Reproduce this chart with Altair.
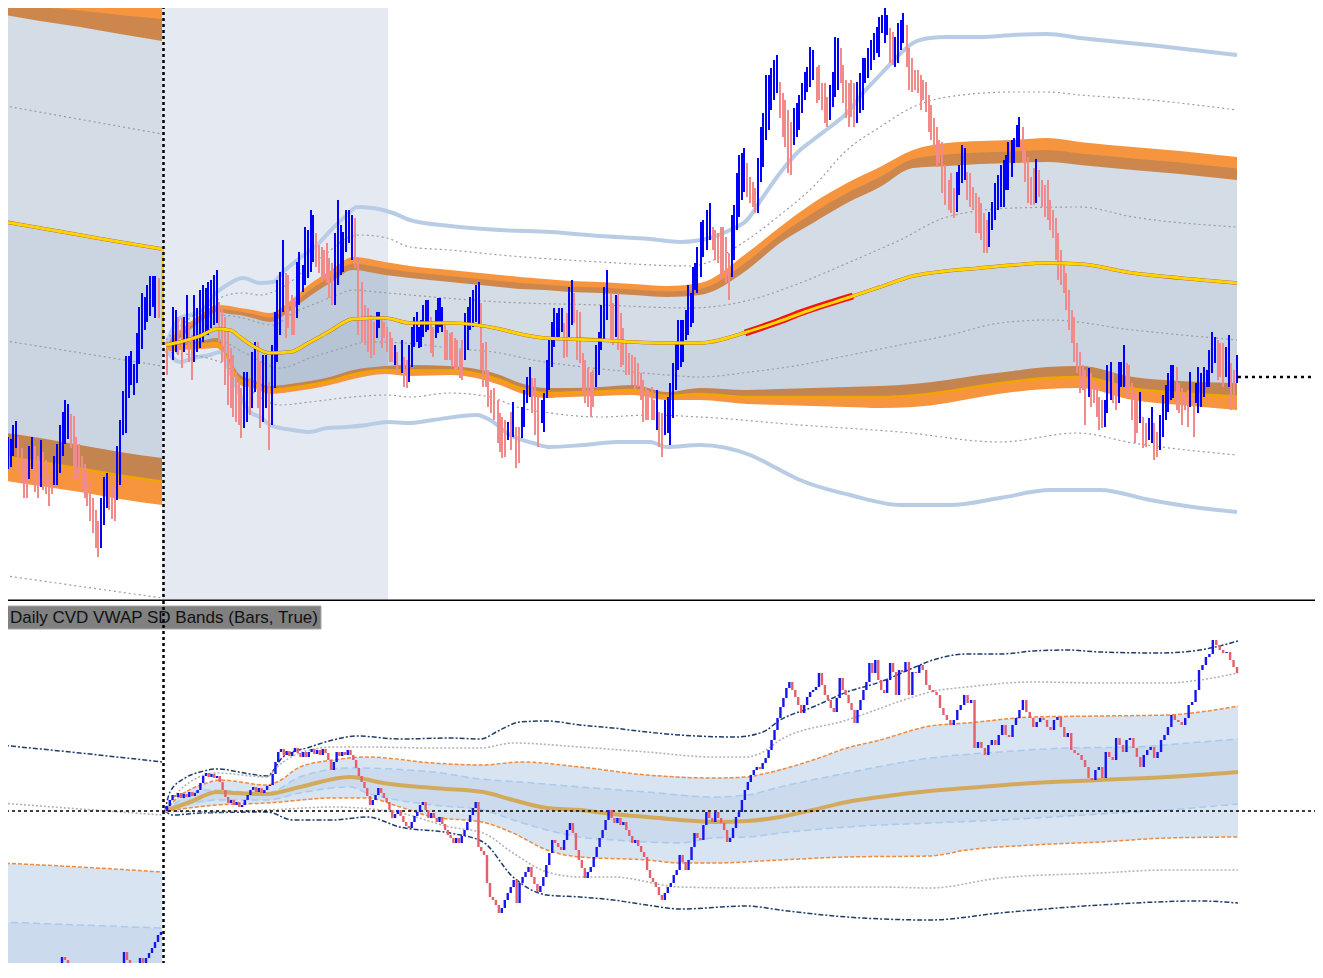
import altair as alt
import pandas as pd
import numpy as np

# ---------------- frame (chart units follow the reference picture) ----------------
X0, X1 = 8, 1315
TOP_Y0, TOP_Y1 = 8, 601
BOT_Y0, BOT_Y1 = 601, 963
W = X1 - X0
H_TOP = TOP_Y1 - TOP_Y0
H_BOT = BOT_Y1 - BOT_Y0

# ---------------- price panel: bars (time, upper end, lower end, direction) ----------------
prev_bars = [
 (3,452,487,'d'),(6,454,479,'u'),(8,437,469,'u'),(11,439,467,'u'),(13,425,456,'u'),(16,421,448,'u'),
 (18,437,471,'d'),(22,448,483,'d'),(24,460,498,'d'),(27,460,498,'d'),(29,446,479,'u'),(32,437,469,'u'),
 (35,446,492,'d'),(38,456,498,'d'),(41,440,487,'u'),(43,452,490,'d'),(46,460,494,'d'),(49,475,506,'d'),
 (52,464,494,'d'),(54,456,485,'u'),(57,444,485,'u'),(60,425,473,'u'),(63,412,456,'u'),(65,400,444,'u'),
 (68,404,439,'u'),(71,414,448,'d'),(74,416,479,'d'),(76,437,479,'d'),(79,444,477,'d'),(82,456,490,'d'),
 (85,464,498,'d'),(87,471,506,'d'),(90,481,521,'d'),(93,498,533,'d'),(96,510,548,'d'),(98,521,557,'d'),
 (101,498,548,'u'),(104,477,525,'u'),(107,473,508,'u'),(109,479,510,'d'),(112,483,519,'d'),(115,487,521,'d'),
 (117,446,500,'u'),(120,420,485,'u'),(123,391,435,'u'),(126,356,433,'u'),(129,356,398,'u'),(131,351,385,'u'),
 (134,364,395,'u'),(137,333,383,'u'),(139,307,364,'u'),(142,293,349,'u'),(145,297,330,'u'),(147,285,322,'u'),
 (150,276,316,'u'),(153,276,307,'u'),(155,276,318,'u'),(159,278,318,'d'),
]

cur_bars = [
 (167,342,375,'d'),(173,307,360,'u'),(176,310,352,'u'),(178,317,355,'d'),(182,318,368,'d'),(184,317,352,'u'),
 (187,295,342,'u'),(189,322,362,'d'),(192,335,380,'d'),(194,295,362,'u'),(197,308,352,'u'),(200,290,348,'u'),
 (203,285,342,'u'),(206,288,335,'u'),(208,282,335,'u'),(211,280,328,'u'),(214,275,325,'u'),(217,270,323,'u'),
 (219,302,342,'d'),(222,308,362,'d'),(225,317,385,'d'),(228,328,405,'d'),(231,348,408,'d'),(233,355,417,'d'),
 (236,372,422,'d'),(239,382,425,'d'),(241,388,438,'d'),(244,372,428,'u'),(247,372,422,'u'),(250,378,415,'d'),
 (252,352,408,'u'),(255,342,392,'u'),(258,342,408,'d'),(260,362,428,'d'),(263,355,422,'u'),(266,355,408,'u'),
 (269,382,450,'d'),(272,345,425,'u'),(275,312,388,'u'),(277,280,362,'u'),(280,272,335,'u'),(283,240,312,'u'),
 (286,273,338,'d'),(288,275,328,'d'),(292,295,335,'d'),(294,298,335,'d'),(297,262,318,'u'),(299,252,305,'u'),
 (303,265,292,'u'),(305,227,285,'u'),(308,230,278,'u'),(311,210,272,'u'),(313,215,262,'u'),(316,233,267,'d'),
 (319,245,273,'d'),(322,247,282,'d'),(324,250,278,'d'),(327,243,283,'d'),(329,258,298,'d'),(332,263,305,'d'),
 (335,233,305,'u'),(338,200,285,'u'),(341,225,275,'u'),(343,232,272,'u'),(346,210,252,'u'),(349,210,243,'u'),
 (352,215,260,'u'),(355,218,268,'d'),(358,257,335,'d'),(362,282,342,'d'),(365,305,345,'d'),(368,308,352,'d'),
 (371,315,358,'d'),(374,322,355,'d'),(377,312,338,'u'),(379,312,328,'u'),(382,318,348,'d'),(384,322,338,'d'),
 (387,327,352,'d'),(390,332,362,'d'),(392,338,362,'d'),(395,345,365,'u'),(397,352,375,'d'),
 (402,340,373,'u'),(404,357,387,'d'),(407,360,388,'d'),(409,345,382,'u'),(412,327,367,'u'),(414,317,347,'u'),
 (417,312,342,'u'),(419,327,348,'u'),(421,320,347,'u'),(423,305,337,'u'),(426,300,332,'u'),(428,300,330,'u'),
 (431,317,353,'d'),(433,327,357,'d'),(436,310,338,'u'),(438,298,333,'u'),(440,298,327,'u'),(442,307,332,'u'),
 (445,325,360,'d'),(447,330,360,'d'),(450,333,360,'d'),(452,332,367,'d'),(455,338,370,'d'),(457,340,370,'d'),
 (460,350,378,'d'),(462,340,380,'d'),(465,313,360,'u'),(468,307,350,'u'),(470,297,330,'u'),(473,290,327,'u'),
 (476,285,322,'u'),(479,282,325,'u'),(481,303,370,'d'),(483,343,387,'d'),(486,342,387,'d'),(488,370,407,'d'),
 (491,390,413,'d'),(494,388,420,'d'),(498,400,443,'d'),(500,413,452,'d'),(502,417,458,'d'),(505,420,457,'d'),
 (508,422,440,'u'),(511,412,450,'d'),(513,402,437,'u'),(516,427,468,'d'),(519,427,463,'d'),(522,407,438,'u'),
 (524,390,427,'u'),(527,377,403,'u'),(530,367,397,'u'),(532,378,413,'d'),(535,378,435,'d'),(538,397,447,'d'),
 (542,400,423,'u'),(544,393,432,'u'),(547,360,398,'u'),(549,340,390,'u'),(552,322,367,'u'),(554,308,347,'u'),
 (557,313,340,'u'),(559,308,337,'u'),(562,308,332,'u'),(564,323,358,'d'),(567,313,357,'d'),(569,287,337,'u'),
 (572,280,325,'u'),(574,293,323,'d'),(577,310,360,'d'),(580,312,363,'d'),(583,353,393,'d'),(585,360,403,'d'),
 (588,368,407,'d'),(591,372,417,'d'),(593,370,407,'d'),(596,345,387,'u'),(599,332,375,'u'),(601,305,350,'u'),
 (604,287,340,'u'),(607,270,320,'u'),(611,293,340,'d'),(613,303,345,'d'),(616,295,337,'u'),(618,293,350,'d'),
 (621,313,367,'d'),(623,328,365,'d'),(626,342,375,'d'),(629,353,375,'d'),(632,355,385,'d'),(635,357,390,'d'),
 (638,363,387,'d'),(641,373,400,'d'),(643,380,422,'d'),(646,387,420,'d'),(648,390,420,'d'),(652,387,420,'d'),
 (654,400,420,'d'),(657,390,430,'u'),(659,412,447,'d'),(662,413,457,'d'),(665,400,435,'u'),(668,397,433,'u'),
 (670,383,445,'u'),(673,363,418,'u'),(676,343,390,'u'),(678,320,370,'u'),(681,320,367,'u'),(683,320,362,'u'),
 (686,310,340,'u'),(688,285,335,'u'),(691,293,327,'u'),(693,267,323,'u'),(695,263,290,'u'),(697,247,293,'u'),
 (701,222,277,'u'),(703,220,257,'u'),(707,210,250,'u'),(710,203,240,'u'),(713,227,250,'d'),(715,230,260,'d'),
 (718,233,263,'d'),(721,227,280,'d'),(723,227,273,'d'),(726,237,283,'d'),(729,253,300,'d'),(732,215,277,'u'),
 (734,205,260,'u'),(737,173,230,'u'),(739,155,217,'u'),(742,153,200,'u'),(744,148,192,'u'),(747,163,197,'d'),
 (750,177,203,'d'),(753,182,207,'d'),(755,188,213,'d'),(758,158,213,'u'),(761,127,182,'u'),(763,113,167,'u'),
 (766,75,140,'u'),(769,75,130,'u'),(771,68,110,'u'),(774,60,100,'u'),(777,55,93,'u'),(780,82,118,'d'),
 (783,93,137,'d'),(785,100,147,'d'),(788,110,173,'d'),(791,122,175,'d'),(794,108,145,'u'),(797,103,137,'u'),
 (799,95,130,'u'),(802,83,113,'u'),(805,72,100,'u'),(807,67,92,'u'),(810,47,87,'u'),(813,50,80,'u'),
 (817,67,103,'d'),(819,65,100,'d'),(822,83,110,'d'),(825,83,123,'d'),(827,97,127,'d'),(830,85,120,'u'),
 (833,72,107,'u'),(835,37,97,'u'),(838,38,90,'u'),(841,48,83,'d'),(843,65,103,'d'),(846,80,118,'d'),
 (849,83,127,'d'),(851,80,117,'d'),(854,83,127,'d'),(857,82,123,'u'),(860,73,113,'u'),(863,58,110,'u'),
 (865,58,83,'u'),(868,48,78,'u'),(871,40,70,'u'),(874,33,60,'u'),(877,27,53,'u'),(879,17,57,'u'),
 (882,15,33,'u'),(885,5,43,'u'),(887,15,35,'u'),(890,28,63,'d'),(893,32,65,'d'),(895,37,67,'u'),
 (898,23,63,'u'),(901,20,50,'u'),(903,13,43,'u'),(907,25,67,'d'),(909,48,90,'d'),(912,58,92,'d'),
 (915,70,90,'d'),(918,70,93,'d'),(921,75,110,'d'),(923,80,100,'d'),(926,82,112,'d'),(929,95,132,'d'),
 (931,105,140,'d'),(934,118,147,'d'),(937,127,167,'d'),(939,140,163,'d'),(942,142,193,'d'),(945,165,205,'d'),
 (949,180,210,'d'),(951,173,213,'d'),(954,188,218,'d'),(957,172,212,'u'),(959,165,195,'u'),(962,145,183,'u'),
 (965,148,180,'u'),(967,172,200,'d'),(970,173,207,'d'),(973,187,210,'d'),(976,193,233,'d'),(979,197,233,'d'),
 (981,203,240,'d'),(984,213,253,'d'),(987,220,253,'d'),(989,212,247,'u'),(992,202,230,'u'),(995,183,220,'u'),
 (998,175,210,'u'),(1001,165,207,'u'),(1004,160,207,'u'),(1006,155,190,'u'),(1008,142,190,'u'),(1012,140,177,'u'),
 (1014,138,163,'u'),(1017,125,147,'u'),(1019,117,147,'u'),(1023,127,163,'d'),(1025,150,182,'d'),(1028,157,203,'d'),
 (1031,177,205,'d'),(1034,168,205,'d'),(1036,159,203,'u'),(1039,170,197,'d'),(1042,180,207,'d'),(1045,185,217,'d'),
 (1048,180,220,'d'),(1050,200,230,'d'),(1053,210,238,'d'),(1056,218,260,'d'),(1058,233,280,'d'),(1061,250,285,'d'),
 (1064,263,293,'d'),(1066,273,310,'d'),(1069,290,330,'d'),(1072,310,343,'d'),(1074,317,362,'d'),(1077,343,373,'d'),
 (1080,352,393,'d'),(1083,365,390,'d'),(1085,370,425,'d'),(1089,368,397,'u'),(1091,373,407,'d'),(1094,380,403,'d'),
 (1097,387,417,'d'),(1099,397,430,'d'),(1102,400,428,'d'),(1105,400,427,'u'),(1107,365,413,'u'),(1111,362,400,'u'),
 (1113,373,403,'d'),(1116,383,410,'d'),(1119,362,403,'u'),(1121,362,387,'u'),(1124,345,387,'u'),(1127,363,397,'d'),
 (1129,365,397,'d'),(1132,383,420,'d'),(1135,393,443,'d'),(1137,393,433,'d'),(1140,392,423,'u'),(1143,417,448,'d'),
 (1146,423,447,'d'),(1149,418,440,'u'),(1152,407,443,'u'),(1154,423,460,'d'),(1157,432,457,'d'),(1160,415,450,'u'),
 (1163,395,437,'u'),(1166,385,420,'u'),(1168,373,412,'u'),(1171,365,400,'u'),(1173,365,398,'u'),(1177,367,410,'d'),
 (1179,383,413,'d'),(1182,388,425,'d'),(1185,393,410,'d'),(1188,390,427,'d'),(1190,372,407,'u'),(1194,397,437,'d'),
 (1196,383,403,'u'),(1198,367,413,'u'),(1201,373,407,'u'),(1204,367,397,'u'),(1207,370,387,'u'),(1209,350,387,'u'),
 (1212,332,373,'u'),(1215,337,363,'u'),(1218,340,380,'d'),(1220,343,377,'d'),(1223,343,387,'d'),(1226,347,377,'u'),
 (1229,335,387,'u'),(1231,363,410,'d'),(1234,370,407,'d'),(1237,355,383,'u'),
]

# ---------------- price panel: session bands ----------------
# previous session
prev_x = [0, 40, 80, 120, 162]
prev_up_outer = [-8, -7, -6, -4, -3]
prev_up_inner = [14, 21, 27, 34, 41]
prev_lo_inner = [432, 438, 445, 452, 458]
prev_lo_outer = [480, 486, 492, 499, 505]
prev_vwap = [221, 228, 235, 242, 249]
prev_dots = [[(0, 105), (162, 134)], [(0, 340), (162, 366)], [(0, 575), (162, 598)]]

# current session
cur_x = [166, 180, 200, 217, 230, 240, 253, 270, 290, 310, 330, 353, 385, 410, 450, 500, 520, 545, 570,
         600, 633, 667, 700, 747, 780, 813, 847, 880, 913, 947, 980, 1013, 1047, 1080, 1133, 1180, 1237]
cur_up_outer = [340, 330, 315, 305, 306, 308, 310, 313, 301, 284, 271, 257, 262, 266, 270, 275, 277, 279, 281,
                282, 284, 286, 283, 253, 227, 203, 183, 167, 150, 143, 141, 140, 138, 142, 147, 151, 157]
cur_up_inner = [348, 338, 322, 312, 314, 315, 318, 322, 311, 296, 283, 270, 275, 278, 282, 287, 289, 290, 292,
                293, 295, 297, 295, 270, 243, 223, 203, 187, 168, 166, 164, 163, 162, 165, 170, 174, 180]
cur_lo_inner = [345, 343, 341, 338, 360, 375, 380, 386, 384, 381, 377, 370, 366, 365, 366, 375, 383, 388, 388,
                387, 385, 392, 388, 390, 389, 388, 387, 386, 384, 380, 375, 371, 367, 366, 377, 381, 383]
cur_lo_outer = [352, 350, 349, 348, 370, 385, 388, 394, 392, 389, 385, 379, 374, 376, 375, 385, 393, 398, 397,
                396, 395, 400, 400, 404, 405, 406, 407, 408, 407, 403, 397, 392, 389, 388, 400, 405, 410]
cur_vwap = [345, 342, 336, 329, 330, 337, 346, 353, 352, 342, 331, 319, 318, 323, 323, 329, 334, 338, 339,
            340, 342, 343, 343, 332, 321, 309, 298, 287, 276, 271, 268, 265, 263, 264, 273, 278, 283]
vwap_flag = [(745, 333), (777, 322), (800, 313), (830, 303), (853, 296)]

sd3_up = [(166, 345), (180, 318), (200, 312), (217, 292), (227, 285), (243, 278), (260, 283), (273, 282),
          (283, 272), (300, 258), (317, 245), (333, 228), (347, 215), (357, 207), (373, 208), (393, 213),
          (410, 220), (450, 226), (500, 230), (550, 232), (600, 236), (650, 239), (680, 242), (713, 237),
          (730, 230), (747, 220), (763, 197), (780, 173), (797, 153), (813, 140), (830, 127), (847, 113),
          (863, 93), (880, 75), (897, 57), (913, 43), (930, 38), (947, 37), (980, 37), (1013, 35),
          (1047, 34), (1080, 38), (1150, 45), (1237, 55)]
sd3_lo = [(166, 350), (180, 362), (193, 358), (210, 355), (220, 352), (230, 372), (240, 395), (250, 412),
          (260, 417), (270, 425), (280, 428), (293, 430), (310, 432), (327, 428), (347, 427), (367, 425),
          (387, 422), (410, 423), (433, 420), (477, 415), (490, 420), (510, 435), (533, 443), (550, 447),
          (583, 445), (617, 442), (650, 442), (667, 447), (700, 445), (750, 455), (780, 470), (800, 480),
          (850, 495), (900, 505), (950, 505), (1000, 498), (1050, 490), (1100, 490), (1150, 500),
          (1200, 508), (1237, 512)]
dot_up_outer = [(166, 340), (190, 318), (210, 305), (227, 295), (243, 293), (260, 295), (273, 292), (293, 280),
                (310, 265), (327, 253), (347, 238), (360, 235), (387, 238), (410, 247), (450, 250), (500, 255),
                (600, 262), (690, 266), (747, 240), (780, 215), (813, 187), (847, 150), (880, 127), (913, 107),
                (947, 97), (1013, 92), (1047, 92), (1080, 95), (1150, 100), (1237, 110)]
dot_up_inner = [(166, 343), (180, 335), (217, 315), (243, 318), (260, 323), (273, 325), (293, 313), (317, 303),
                (337, 295), (353, 290), (377, 292), (410, 295), (500, 302), (600, 305), (690, 308), (750, 300),
                (800, 283), (850, 262), (900, 240), (947, 217), (1013, 208), (1080, 207), (1133, 217), (1237, 227)]
dot_lo_inner = [(166, 348), (217, 340), (243, 352), (280, 368), (310, 358), (343, 348), (367, 342), (405, 343),
                (450, 348), (500, 353), (533, 360), (583, 367), (633, 372), (667, 375), (700, 377), (750, 372),
                (800, 365), (850, 355), (900, 345), (950, 335), (1000, 323), (1050, 320), (1133, 330), (1237, 340)]
dot_lo_outer = [(166, 352), (220, 362), (250, 390), (280, 405), (310, 402), (343, 398), (387, 395), (410, 397),
                (450, 393), (490, 397), (517, 407), (550, 413), (600, 417), (650, 415), (700, 417), (800, 425),
                (900, 432), (1000, 442), (1077, 433), (1133, 443), (1237, 455)]

# ---------------- CVD panel ----------------
cvd_start = 811
cvd_seg1 = (167, 484, [
 806,800,795,797,793,798,794,797,792,796, 793,790,783,776,773,777,774,778,776,782,
 790,797,803,800,805,802,807,805,800,795, 790,787,792,788,793,790,786,785,774,762,
 752,749,755,751,756,752,748,753,757,752, 757,752,749,754,750,755,749,753,760,770,
 762,752,756,752,755,750,755,760,768,776, 782,788,796,805,800,795,788,793,798,802,
 810,818,814,810,816,822,826,828,822,816, 812,805,802,810,818,813,818,822,817,824,
 830,835,838,843,838,843,836,830,822,815, 808,802,847,851,855])
cvd_seg2 = (487, 899, [
 883,897,900,905,913,908,900,893,887,880, 903,883,877,872,867,877,884,892,886,877,
 865,853,840,843,847,850,840,830,823,833, 850,860,868,878,872,867,857,847,838,830,
 820,810,818,823,818,825,822,830,836,843, 840,846,852,857,870,878,882,887,895,900,
 893,887,883,875,870,855,862,870,860,847, 833,838,840,825,812,818,822,812,818,823,
 830,842,838,828,817,812,800,790,782,775, 770,767,769,763,758,750,740,730,718,707,
 698,688,682,690,697,705,713,705,697,692, 690,687,673,685,695,700,708,712,698,678,
 690,695,703,710,723,710,700,690,682,663, 673,660,680,690,693,680,663,672,695,670])
cvd_seg3 = (902, 1237, [
 672,662,695,672,673,665,670,685,690,692, 695,708,715,720,725,720,710,705,695,703,
 700,748,742,748,755,745,740,745,735,725, 735,737,725,718,710,700,712,718,727,722,
 718,720,727,730,720,717,727,737,733,750, 753,755,760,767,778,780,770,767,778,752,
 757,760,738,745,752,740,738,748,757,767, 755,750,747,758,752,740,735,727,715,720,
 722,725,718,705,702,690,670,665,657,654, 640,645,650,653,652,660,667,673])
cvd_prev_a = (967, [(62, 957), (65, 960), (68, 967), (71, 975), (74, 985)])
cvd_prev_b = (985, [(117, 977), (120, 967), (124, 952), (127, 960), (130, 968), (133, 975), (137, 967),
                    (140, 958), (143, 965), (146, 958), (149, 953), (152, 948), (155, 942), (158, 935), (161, 932)])

# CVD bands, previous session
cprev_navy = [(0, 745), (80, 753), (162, 762)]
cprev_gray = [(0, 803), (80, 809), (162, 815)]
cprev_orange = [(0, 863), (80, 867), (162, 872)]
cprev_blue = [(0, 922), (80, 925), (162, 928)]

# CVD bands, current session
c_navy_up = [(165, 811), (170, 792), (185, 778), (200, 772), (217, 769), (250, 774), (267, 776), (283, 757),
             (310, 747), (333, 740), (357, 736), (400, 739), (450, 738), (480, 739), (500, 730), (520, 722),
             (547, 721), (580, 725), (613, 728), (647, 732), (680, 735), (735, 737), (763, 732), (780, 720),
             (813, 707), (847, 692), (880, 682), (913, 668), (933, 660), (967, 654), (1000, 654), (1033, 651),
             (1067, 650), (1100, 652), (1160, 653), (1200, 650), (1238, 641)]
c_gray_up = [(165, 811), (180, 790), (217, 773), (267, 777), (277, 767), (300, 753), (333, 747), (367, 747),
             (433, 748), (480, 748), (513, 743), (580, 747), (647, 752), (713, 757), (747, 757), (763, 752),
             (780, 740), (847, 720), (913, 697), (930, 692), (967, 687), (1033, 682), (1100, 683), (1167, 683),
             (1200, 680), (1238, 673)]
c_orange_up = [(165, 811), (173, 802), (207, 783), (220, 780), (267, 785), (277, 782), (300, 767), (333, 760),
               (367, 757), (433, 763), (483, 765), (520, 762), (580, 767), (647, 775), (713, 778), (747, 777),
               (763, 774), (813, 760), (847, 748), (880, 740), (930, 726), (967, 723), (1033, 717), (1100, 716),
               (1167, 715), (1200, 712), (1238, 706)]
c_blue_up = [(165, 811), (207, 790), (267, 793), (300, 777), (350, 768), (433, 772), (480, 779), (520, 782),
             (580, 787), (647, 792), (713, 797), (747, 795), (780, 787), (847, 773), (930, 758), (1000, 752),
             (1067, 748), (1133, 747), (1200, 742), (1238, 739)]
c_vwap = [(165, 811), (190, 802), (217, 792), (233, 793), (267, 794), (300, 787), (350, 777), (383, 783),
          (433, 788), (483, 792), (513, 800), (547, 808), (580, 810), (613, 814), (647, 817), (680, 820),
          (713, 822), (747, 821), (780, 817), (813, 810), (847, 802), (880, 797), (930, 791), (967, 788),
          (1033, 783), (1100, 780), (1167, 777), (1238, 772)]
c_blue_lo = [(165, 811), (217, 800), (267, 800), (300, 793), (350, 787), (367, 793), (433, 805), (483, 810),
             (513, 820), (547, 830), (580, 837), (613, 840), (647, 842), (680, 843), (713, 838), (747, 837),
             (780, 833), (847, 827), (930, 823), (1000, 820), (1100, 814), (1167, 810), (1238, 804)]
c_orange_lo = [(165, 811), (217, 805), (267, 803), (333, 798), (367, 798), (400, 807), (433, 817), (482, 822),
               (513, 833), (547, 850), (580, 857), (647, 860), (680, 863), (713, 863), (780, 860), (847, 857),
               (930, 856), (967, 850), (1033, 845), (1100, 842), (1167, 838), (1238, 837)]
c_gray_lo = [(165, 811), (200, 812), (267, 810), (333, 807), (400, 813), (450, 827), (483, 833), (513, 853),
             (547, 872), (580, 877), (613, 877), (680, 887), (747, 888), (813, 887), (880, 887), (930, 888),
             (1000, 878), (1100, 873), (1167, 870), (1238, 870)]
c_navy_lo = [(165, 811), (173, 815), (200, 813), (267, 812), (293, 820), (333, 820), (367, 817), (400, 827),
             (450, 833), (483, 842), (513, 877), (547, 895), (580, 897), (613, 900), (647, 905), (680, 909),
             (747, 906), (780, 910), (847, 917), (930, 920), (1000, 913), (1100, 905), (1200, 901), (1238, 903)]

label_text = "Daily CVD VWAP SD Bands (Bars, True)"

# ---------------- colours ----------------
ORANGE = "#f7953f"
FILL = "#285082"
BAR_UP, BAR_DN = "#0000ff", "#f28a8a"
CVD_UP, CVD_DN = "#1515f0", "#e45f6a"


# ---------------- helpers ----------------
def X():
    return alt.X("x:Q", scale=alt.Scale(domain=[X0, X1], nice=False, zero=False), axis=None)


def Y(top):
    d = [TOP_Y0, TOP_Y1] if top else [BOT_Y0, BOT_Y1]
    return alt.Y("y:Q", scale=alt.Scale(domain=d, reverse=True, nice=False, zero=False), axis=None)


def line(pts, top, color, width, dash=None, opacity=1.0, interp="monotone"):
    df = pd.DataFrame(pts, columns=["x", "y"])
    kw = dict(color=color, strokeWidth=width, opacity=opacity, interpolate=interp, clip=True)
    if dash:
        kw["strokeDash"] = dash
    return alt.Chart(df).mark_line(**kw).encode(x=X(), y=Y(top))


def area(xv, ya, yb, top, color, opacity=1.0):
    df = pd.DataFrame({"x": xv, "y": ya, "y2": yb})
    return alt.Chart(df).mark_area(color=color, opacity=opacity, interpolate="monotone", clip=True).encode(
        x=X(), y=Y(top), y2="y2:Q")


def mid(a, b):
    return [(p + q) / 2 for p, q in zip(a, b)]


# ---------------- price panel ----------------
top_layers = []
top_layers.append(
    alt.Chart(pd.DataFrame({"x": [162], "x2": [388], "y": [0], "y2": [601]}))
    .mark_rect(color="#e5eaf2", clip=True).encode(x=X(), x2="x2:Q", y=Y(True), y2="y2:Q"))

for xv, a, b, c, d, v in [
    (prev_x, prev_up_outer, prev_up_inner, prev_lo_inner, prev_lo_outer, prev_vwap),
    (cur_x, cur_up_outer, cur_up_inner, cur_lo_inner, cur_lo_outer, cur_vwap),
]:
    up_edge = mid(a, b)
    lo_edge = mid(c, d)
    top_layers.append(area(xv, a, b, True, ORANGE))
    top_layers.append(area(xv, c, d, True, ORANGE))
    top_layers.append(area(xv, up_edge, lo_edge, True, FILL, 0.2))
    top_layers.append(area(xv, v, lo_edge, True, FILL, 0.05))
    top_layers.append(line(list(zip(xv, lo_edge)), True, "#f2a400", 2.5))

top_layers.append(line(sd3_up, True, "#b9cce5", 4))
top_layers.append(line(sd3_lo, True, "#b9cce5", 4))
for pts in [dot_up_outer, dot_up_inner, dot_lo_inner, dot_lo_outer] + prev_dots:
    top_layers.append(line(pts, True, "#9c9c9c", 1.2, dash=[2, 3]))

bars = pd.DataFrame(prev_bars + cur_bars, columns=["x", "y", "y2", "d"])
bars["col"] = bars["d"].map({"u": BAR_UP, "d": BAR_DN})
top_layers.append(
    alt.Chart(bars).mark_rule(strokeWidth=2, clip=True)
    .encode(x=X(), y=Y(True), y2="y2:Q", color=alt.Color("col:N", scale=None)))

# VWAP
top_layers.append(line(vwap_flag, True, "#ff1010", 7))
for pts in [list(zip(prev_x, prev_vwap)), list(zip(cur_x, cur_vwap))]:
    top_layers.append(line(pts, True, "#9a2a10", 3.6, opacity=0.8))
    top_layers.append(line(pts, True, "#ffd400", 3))
top_layers.append(
    alt.Chart(pd.DataFrame({"x": [162.5], "y": [prev_vwap[-1]], "y2": [cur_vwap[0]]}))
    .mark_rule(color="#ffd400", strokeWidth=3, clip=True).encode(x=X(), y=Y(True), y2="y2:Q"))

# session divider, last price line, panel separator
top_layers.append(
    alt.Chart(pd.DataFrame({"x": [163.5], "y": [0], "y2": [601]}))
    .mark_rule(color="black", strokeWidth=2.5, strokeDash=[3, 3], clip=True).encode(x=X(), y=Y(True), y2="y2:Q"))
top_layers.append(
    alt.Chart(pd.DataFrame({"x": [1238], "x2": [1330], "y": [377]}))
    .mark_rule(color="black", strokeWidth=2.5, strokeDash=[3, 4], clip=True).encode(x=X(), x2="x2:Q", y=Y(True)))
top_layers.append(
    alt.Chart(pd.DataFrame({"x": [0], "x2": [1330], "y": [600.3]}))
    .mark_rule(color="black", strokeWidth=1.4, clip=True).encode(x=X(), x2="x2:Q", y=Y(True)))

top = alt.layer(*top_layers).properties(width=W, height=H_TOP)

# ---------------- CVD panel ----------------
bot_layers = []


def pts_y(pts):
    return [p[1] for p in pts]


def pts_x(pts):
    return [p[0] for p in pts]


# previous session fills
bot_layers.append(area(pts_x(cprev_orange), pts_y(cprev_orange), [990] * 3, False, "#d8e4f2"))
bot_layers.append(area(pts_x(cprev_blue), pts_y(cprev_blue), [990] * 3, False, "#ccdaed"))


def resample(pts, grid):
    return list(np.interp(grid, pts_x(pts), pts_y(pts)))


grid_o = sorted(set(pts_x(c_orange_up)) | set(pts_x(c_orange_lo)))
bot_layers.append(area(grid_o, resample(c_orange_up, grid_o), resample(c_orange_lo, grid_o), False, "#d8e4f2"))
grid_b = sorted(set(pts_x(c_blue_up)) | set(pts_x(c_blue_lo)))
bot_layers.append(area(grid_b, resample(c_blue_up, grid_b), resample(c_blue_lo, grid_b), False, "#ccdaed"))

for pts in [cprev_navy, c_navy_up, c_navy_lo]:
    bot_layers.append(line(pts, False, "#1f3d6b", 1.5, dash=[5, 2, 2, 2]))
for pts in [cprev_gray, c_gray_up, c_gray_lo]:
    bot_layers.append(line(pts, False, "#b3b3b3", 1.6, dash=[2, 2]))
for pts in [cprev_orange, c_orange_up, c_orange_lo]:
    bot_layers.append(line(pts, False, "#f08a3c", 1.5, dash=[4, 2]))
for pts in [cprev_blue, c_blue_up, c_blue_lo]:
    bot_layers.append(line(pts, False, "#a6cbee", 1.5, dash=[7, 4]))
bot_layers.append(line(c_vwap, False, "#d3a95c", 4))

bot_layers.append(
    alt.Chart(pd.DataFrame({"x": [0], "x2": [1330], "y": [811]}))
    .mark_rule(color="black", strokeWidth=1.5, strokeDash=[3, 3], clip=True).encode(x=X(), x2="x2:Q", y=Y(False)))

# candles
rows = []
prev = cvd_start
for x_a, x_b, closes in [cvd_seg1, cvd_seg2, cvd_seg3]:
    xs_ = np.linspace(x_a, x_b, len(closes))
    for xx, cl in zip(xs_, closes):
        rows.append((xx, prev, cl))
        prev = cl
for o0, seq in [cvd_prev_a, cvd_prev_b]:
    prev = o0
    for xx, cl in seq:
        rows.append((xx, prev, cl))
        prev = cl
cdf = pd.DataFrame(rows, columns=["x", "y", "y2"])
cdf["col"] = np.where(cdf["y2"] < cdf["y"], CVD_UP, CVD_DN)
bot_layers.append(
    alt.Chart(cdf).mark_rule(strokeWidth=2.4, clip=True)
    .encode(x=X(), y=Y(False), y2="y2:Q", color=alt.Color("col:N", scale=None)))

# label
bot_layers.append(
    alt.Chart(pd.DataFrame({"x": [0], "x2": [321], "y": [606], "y2": [629]}))
    .mark_rect(color="#808080", stroke="#a8a8a8", strokeWidth=1, clip=True)
    .encode(x=X(), x2="x2:Q", y=Y(False), y2="y2:Q"))
bot_layers.append(
    alt.Chart(pd.DataFrame({"x": [10], "y": [618], "t": [label_text]}))
    .mark_text(align="left", baseline="middle", fontSize=17, font="Liberation Sans", color="#111111")
    .encode(x=X(), y=Y(False), text="t:N"))

bot_layers.append(
    alt.Chart(pd.DataFrame({"x": [163.5], "y": [601], "y2": [990]}))
    .mark_rule(color="black", strokeWidth=2.5, strokeDash=[3, 3], clip=True).encode(x=X(), y=Y(False), y2="y2:Q"))

bot = alt.layer(*bot_layers).properties(width=W, height=H_BOT)

chart = (
    alt.vconcat(top, bot, spacing=0)
    .properties(padding=0, background="white")
    .configure_view(stroke=None)
)

chart.save("out.html", embed_options={"renderer": "svg", "actions": False})
